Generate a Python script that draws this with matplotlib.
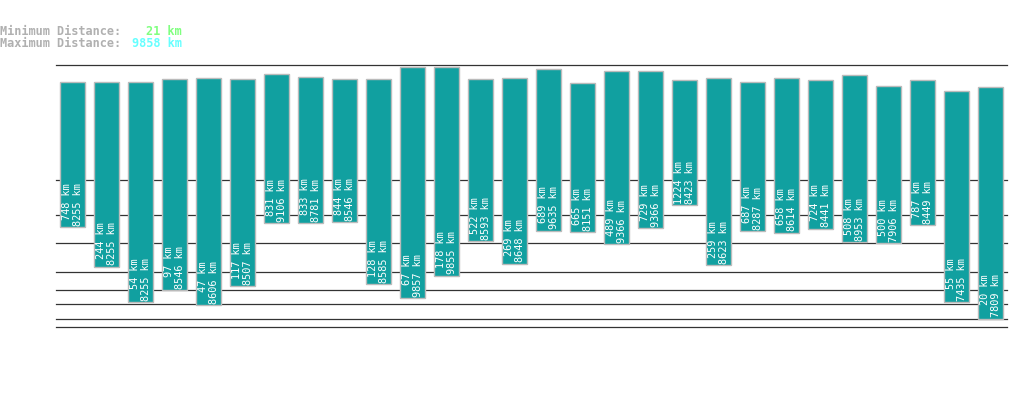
import numpy as np
import matplotlib.pyplot as plt

# distances per route, km
min_km = [748, 244, 54, 97, 47, 117, 831, 833, 844, 128, 67, 178, 522, 269,
          689, 665, 489, 729, 1224, 259, 687, 658, 724, 508, 500, 787, 55, 20]
max_km = [8255, 8255, 8255, 8546, 8606, 8507, 9106, 8781, 8546, 8585, 9857, 9855, 8593, 8648,
          9635, 8151, 9366, 9366, 8423, 8623, 8287, 8614, 8441, 8953, 7906, 8449, 7435, 7809]
grid_km = [10, 20, 50, 100, 200, 500, 1000, 2000, 10000]
overall_min = 21
overall_max = 9858

W, H = 1019, 402
fig = plt.figure(figsize=(W / 100, H / 100), dpi=100)

# axes spans x 56..1007 px, y 66..328 px (from top)
ax = fig.add_axes([56 / W, (H - 328.3) / H, (1007 - 56) / W, (328.3 - 66.3) / H])

# power scale with exponent 0.3
p = 0.3
ax.set_yscale("function", functions=(lambda v: np.power(np.clip(v, 1e-9, None), p),
                                      lambda v: np.power(np.clip(v, 1e-9, None), 1 / p)))
ax.set_ylim(10, 10000)

x = np.arange(len(min_km))
ax.set_xlim((56 - 72.5) / 34, (1007 - 72.5) / 34)

for g in grid_km:
    ax.axhline(g, color="#333333", lw=0.9, zorder=1, clip_on=False)

mins = np.array(min_km)
maxs = np.array(max_km)
ax.bar(x, maxs - mins, bottom=mins, width=0.72, color="#11a0a0",
       edgecolor="#bbbbbb", linewidth=1.0, zorder=2)

for xi, lo, hi in zip(x, min_km, max_km):
    ax.annotate(f"{lo} km\n{hi} km", (xi, lo), xytext=(0, 1.6), textcoords="offset points",
                rotation=90, ha="center", va="bottom", multialignment="right",
                color="white", fontsize=7.4, family="DejaVu Sans Mono",
                linespacing=1.12, zorder=3)

ax.set_axis_off()

# header text
hdr = dict(fontsize=8.6, family="DejaVu Sans Mono", fontweight="bold", va="center")
fig.text(0, 1 - 31.5 / H, "Minimum Distance:", color="#b0b0b0", ha="left", **hdr)
fig.text(0, 1 - 43.5 / H, "Maximum Distance:", color="#b0b0b0", ha="left", **hdr)
fig.text(182 / W, 1 - 31.5 / H, f"{overall_min} km", color="#80ff80", ha="right", **hdr)
fig.text(182 / W, 1 - 43.5 / H, f"{overall_max} km", color="#66ffff", ha="right", **hdr)

fig.savefig("out.png", dpi=100)
